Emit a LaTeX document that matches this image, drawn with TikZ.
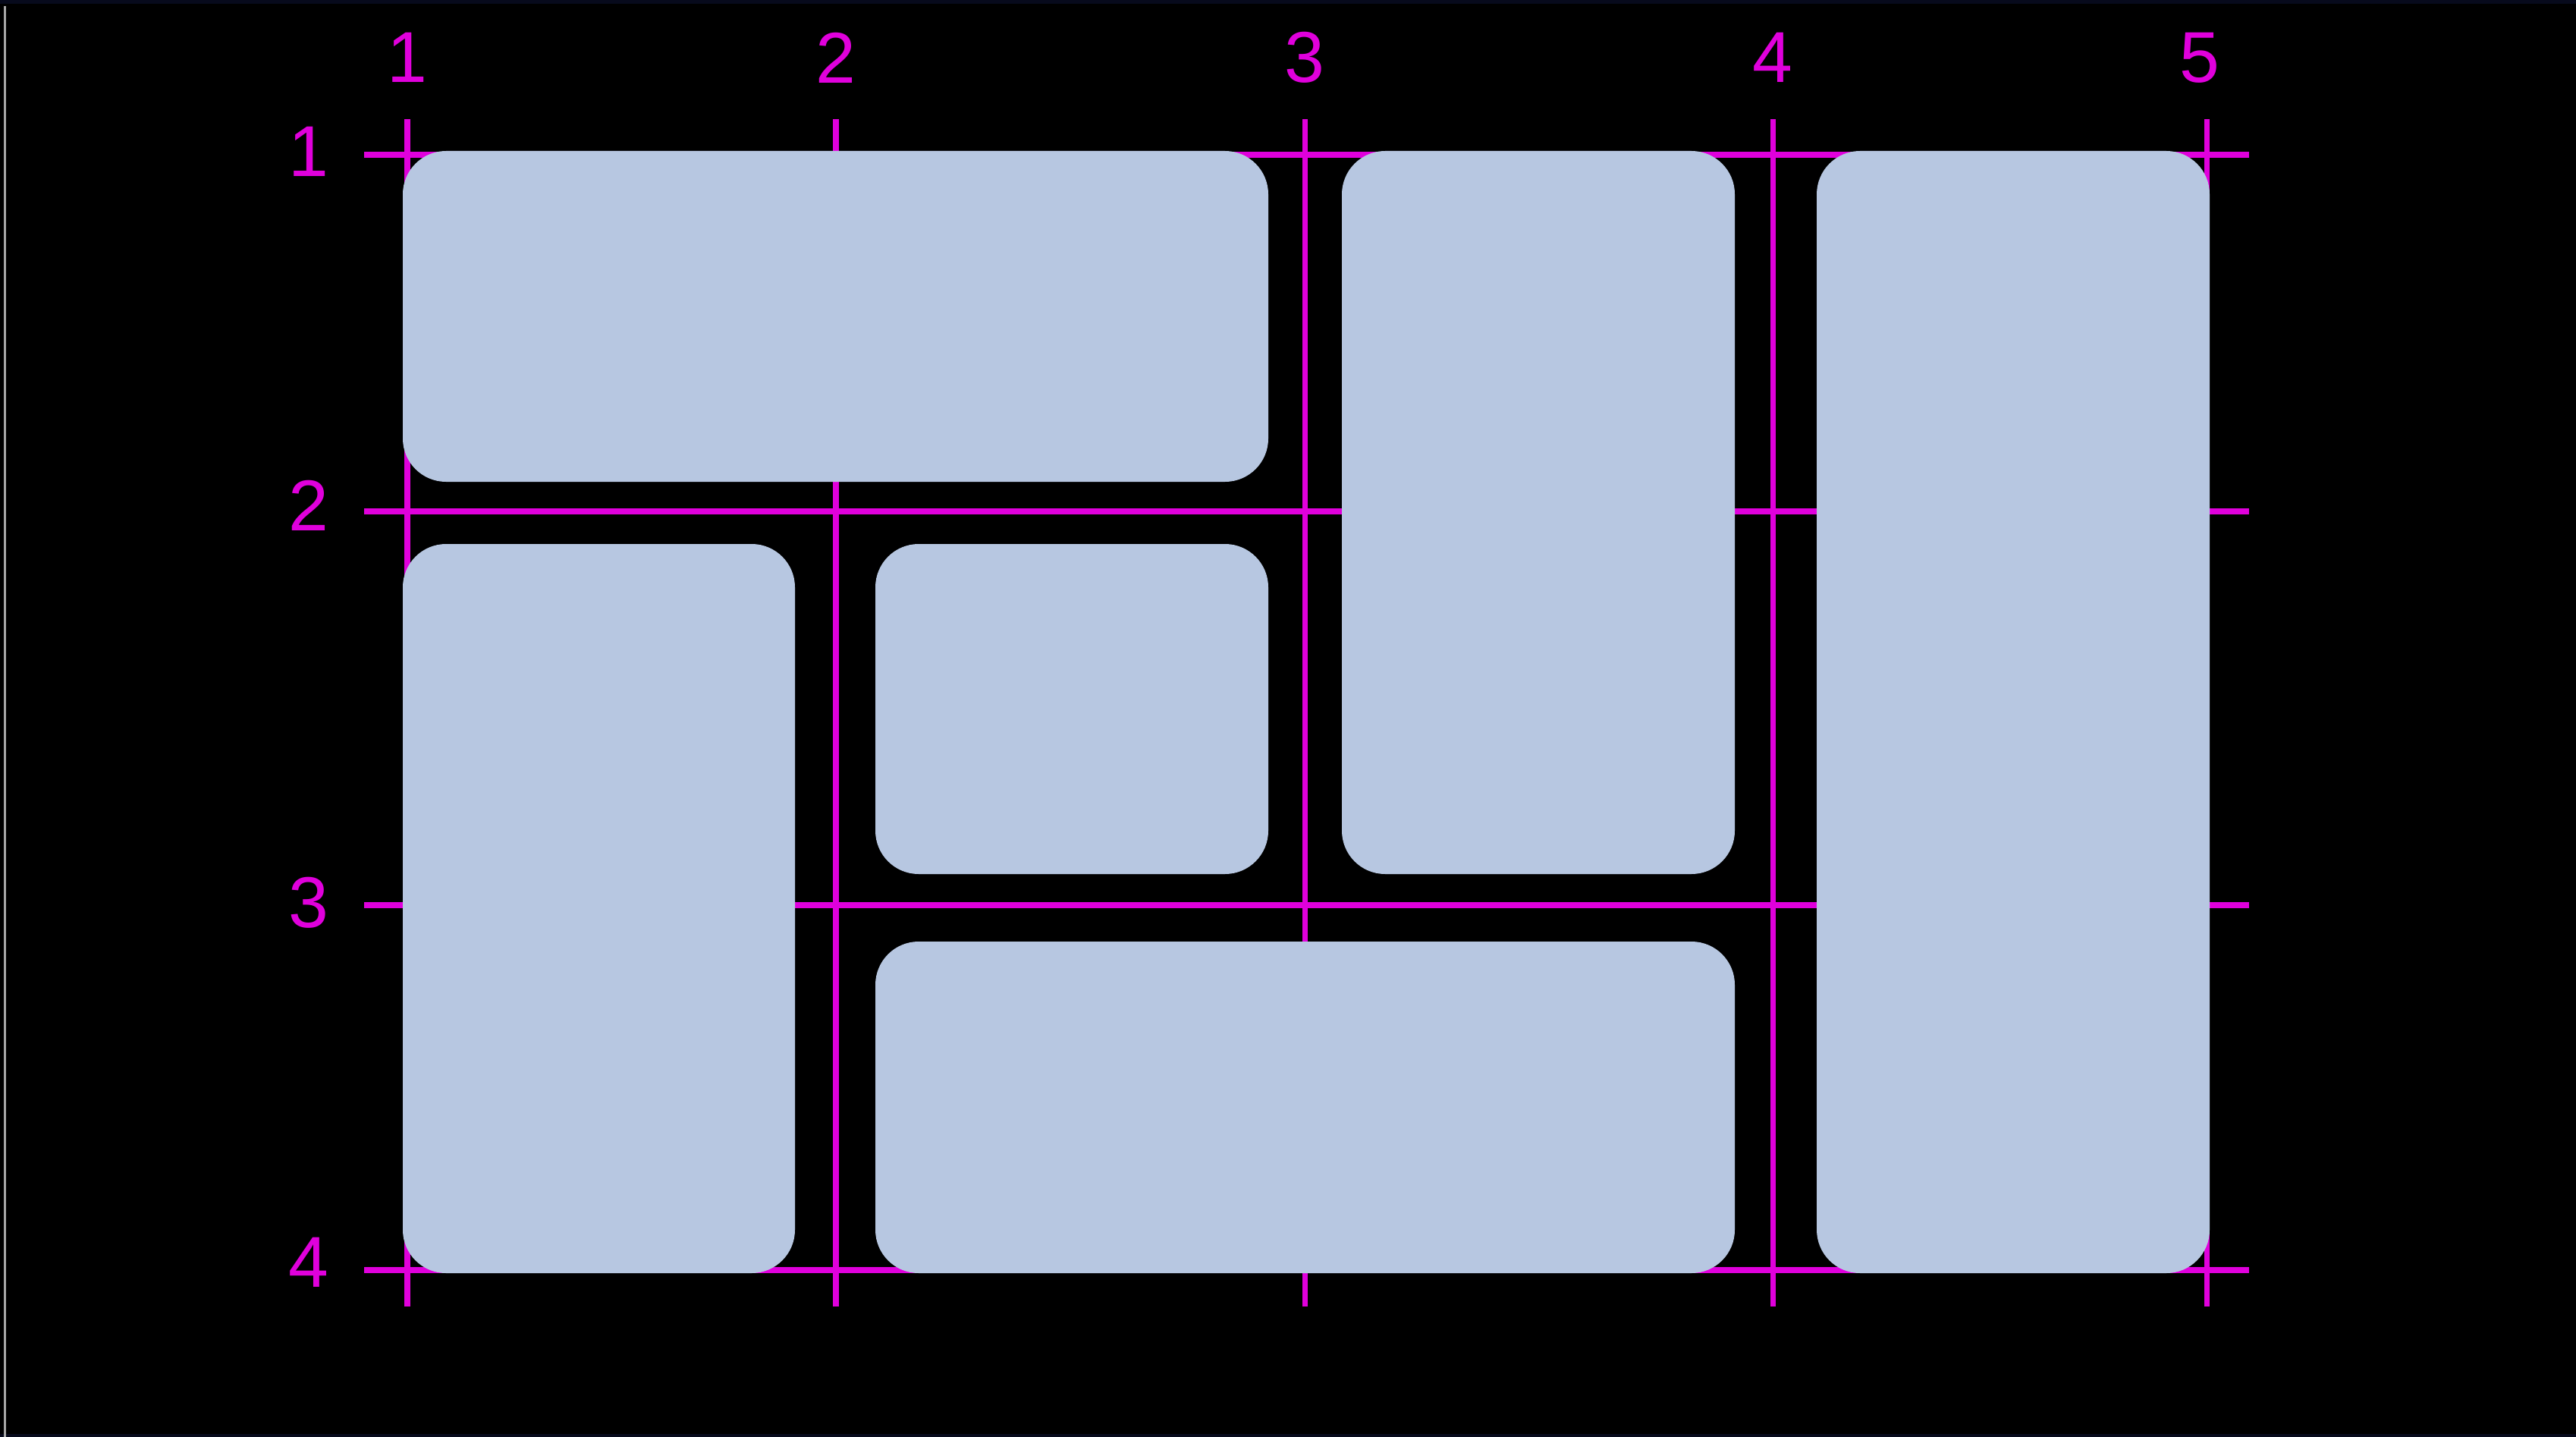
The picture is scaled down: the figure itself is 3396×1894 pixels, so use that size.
\documentclass[tikz,border=0pt]{standalone}
\usepackage{fontspec}
\setmainfont{Liberation Sans}
\definecolor{cellblue}{HTML}{B7C7E1}
\definecolor{gridpink}{HTML}{E000DC}
\definecolor{edgenavy}{HTML}{070A1C}

\begin{document}
\begin{tikzpicture}[x=0.01cm,y=0.01cm]
\tikzstyle{every node}+=[inner sep=0pt]
\tikzstyle{gridline}=[gridpink, line width=2pt]
\tikzstyle{gridlabel}=[text=gridpink, font=\fontsize{27}{32}\selectfont]
\tikzstyle{cell}=[fill=cellblue, rounded corners=0.57cm]
\useasboundingbox (0,0) rectangle (3396,-1894);
\fill [black] (0,0) rectangle (3396,-1894);
\fill [edgenavy] (0,0) rectangle (3396,-5);
\fill [edgenavy] (0,-1890) rectangle (3396,-1894);
\fill [gray!70] (5,-8) rectangle (8,-1894);
% grid lines
\draw [gridline] (480,-204) -- (2965,-204);
\draw [gridline] (480,-674) -- (2965,-674);
\draw [gridline] (480,-1193) -- (2965,-1193);
\draw [gridline] (480,-1674) -- (2965,-1674);
\draw [gridline] (537,-157) -- (537,-1722);
\draw [gridline] (1102,-157) -- (1102,-1722);
\draw [gridline] (1720,-157) -- (1720,-1722);
\draw [gridline] (2337,-157) -- (2337,-1722);
\draw [gridline] (2909,-157) -- (2909,-1722);
% column numbers
\draw (537,-76) node [gridlabel] (col1) {1};
\draw (1102,-76) node [gridlabel] (col2) {2};
\draw (1720,-76) node [gridlabel] (col3) {3};
\draw (2337,-76) node [gridlabel] (col4) {4};
\draw (2900,-76) node [gridlabel] (col5) {5};
% row numbers
\draw (407,-200) node [gridlabel] (row1) {1};
\draw (407,-666) node [gridlabel] (row2) {2};
\draw (407,-1190) node [gridlabel] (row3) {3};
\draw (407,-1664) node [gridlabel] (row4) {4};
% cells
\fill [cell] (531,-199) rectangle (1672,-635);
\fill [cell] (1769,-199) rectangle (2287,-1152);
\fill [cell] (2395,-199) rectangle (2913,-1678);
\fill [cell] (531,-717) rectangle (1048,-1678);
\fill [cell] (1154,-717) rectangle (1672,-1152);
\fill [cell] (1154,-1241) rectangle (2287,-1678);
\end{tikzpicture}
\end{document}
